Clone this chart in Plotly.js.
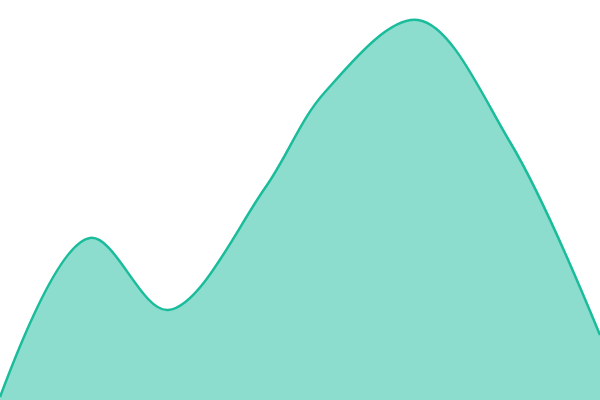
<!DOCTYPE html>
<html><head><meta charset="utf-8">
<script src="https://cdn.plot.ly/plotly-3.0.1.min.js"></script>
<style>html,body{margin:0;padding:0;background:#fff}#chart{width:600px;height:400px}</style>
</head><body><div id="chart"></div>
<script>
const xValues = [0, 90, 168, 265, 325, 418, 510, 600];
const yValues = [3, 162, 90, 212, 308, 380, 258, 65];
const lineColor = '#1abc9c';
Plotly.newPlot('chart', [{
  x: xValues, y: yValues, type: 'scatter', mode: 'lines',
  line: {shape: 'spline', smoothing: 1, color: lineColor, width: 2.5},
  fill: 'tozeroy', fillcolor: 'rgba(26,188,156,0.5)', hoverinfo: 'none'
}], {
  width: 600, height: 400, margin: {l: 0, r: 0, t: 0, b: 0},
  paper_bgcolor: '#fff', plot_bgcolor: '#fff', showlegend: false,
  xaxis: {range: [0, 600], visible: false, fixedrange: true},
  yaxis: {range: [0, 400], visible: false, fixedrange: true}
}, {displayModeBar: false, staticPlot: true});
</script></body></html>
